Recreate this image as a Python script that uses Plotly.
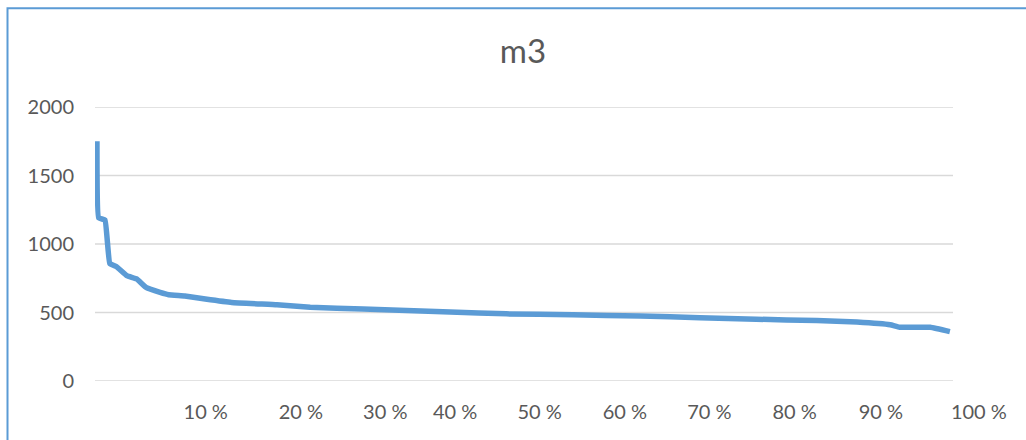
import plotly.graph_objects as go

# Duration curve (share of time, %) vs volume (m3)
share = [0, 0.2, 0.94, 1.5, 2.3, 3.5, 4.65, 5.8, 7.4, 8.4, 10.3, 12.7, 15.8, 21.1, 25.0,
         31.2, 36.3, 41.4, 48.0, 55.8, 63.7, 70.7, 77.3, 84.4, 89.1, 93.0, 94.1, 97.7, 100]
volume = [1750, 1190, 1175, 859, 834, 769, 745, 681, 647, 630, 620, 598, 573, 556, 538,
          525, 515, 503, 490, 483, 474, 462, 451, 441, 430, 410, 392, 392, 360]

tick_pos = [12.75, 23.9, 33.8, 42.0, 51.9, 61.9, 71.8, 81.8, 91.9, 103.4]
tick_text = ["10 %", "20 %", "30 %", "40 %", "50 %", "60 %", "70 %", "80 %", "90 %", "100 %"]
y_ticks = [0, 500, 1000, 1500, 2000]

W, H = 1026, 440
L, R = 95, 984
T, B = 107.2, 381.2
xr = [-0.23, 104.0]

FONT = "Lato"
TXT = "#595959"
GRID = "#d9d9d9"
LINE = "#5b9bd5"

fig = go.Figure()
fig.add_trace(go.Scatter(x=share, y=volume, mode="lines",
                         line=dict(color=LINE, width=5.5, shape="spline", smoothing=0.3),
                         hoverinfo="x+y", showlegend=False))

shapes = []
for v in y_ticks:
    shapes.append(dict(type="line", xref="paper", yref="y", x0=0, x1=(953 - L) / (R - L),
                       y0=v, y1=v, line=dict(color=GRID, width=1.5), layer="below"))
# chart border (top & left)
px = lambda p: (p - L) / (R - L)
py = lambda p: (B - p) / (B - T)
shapes.append(dict(type="rect", xref="paper", yref="paper",
                   x0=px(7.5), x1=px(1040), y0=py(460), y1=py(8.5),
                   line=dict(color=LINE, width=2), fillcolor="rgba(0,0,0,0)"))

fig.update_layout(
    width=W, height=H,
    margin=dict(l=L, r=W - R, t=T, b=H - B, pad=0),
    paper_bgcolor="white", plot_bgcolor="white",
    title=dict(text="m3", x=523 / W, xanchor="center", y=1 - 51 / H, yanchor="middle",
               font=dict(family=FONT, size=33, color=TXT)),
    font=dict(family=FONT, size=20, color=TXT),
    shapes=shapes,
    xaxis=dict(range=xr, tickmode="array", tickvals=tick_pos, ticktext=tick_text,
               showgrid=False, zeroline=False, showline=False, ticks="",
               ticklabelstandoff=17, tickfont=dict(family=FONT, size=20, color=TXT)),
    yaxis=dict(range=[0, 2000], tickmode="array", tickvals=y_ticks,
               ticktext=[str(v) for v in y_ticks],
               showgrid=False, zeroline=False, showline=False, ticks="",
               ticklabelstandoff=20, tickfont=dict(family=FONT, size=20, color=TXT)),
)

fig.write_html("out.html", config={"displayModeBar": False},
               post_script="document.body.style.margin='0';")
